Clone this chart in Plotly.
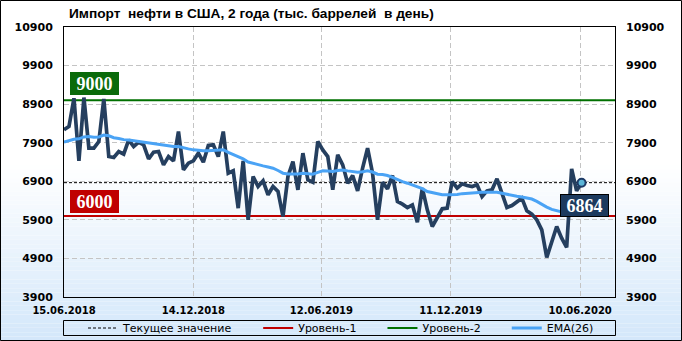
import plotly.graph_objects as go
import pandas as pd

# ---------------- data ----------------
title_text = "Импорт\u00a0 нефти в США, 2 года (тыс. баррелей\u00a0 в день)"
start_date = "2018-06-15"
end_date = "2020-07-29"

imports = [
    8234, 8320, 9054, 7430, 9071, 7758, 7758, 7931, 9037, 7542,
    7516, 7672, 7603, 7974, 7802, 7914, 7845, 7482, 7655, 7672,
    7326, 7542, 7430, 8190, 7197, 7370, 7430, 7629, 7395, 7827,
    7845, 7542, 8190, 7110, 7171, 6203, 7430, 5900, 7024, 6765,
    6912, 6549, 6765, 6635, 5987, 7024, 7413, 6678, 7629, 6938,
    6877, 7931, 7715, 7542, 6678, 7586, 7326, 6851, 7050, 6652,
    7240, 7758, 7110, 5900, 6877, 6704, 7050, 6376, 6307, 6220,
    6289, 5840, 6722, 6160, 5728, 5944, 6186, 6203, 6894, 6722,
    6834, 6790, 6765, 6808, 6506, 6652, 6678, 6963, 6592, 6220,
    6272, 6376, 6462, 6134, 6048, 5901, 5642, 4924, 5339, 5728,
    5425, 5184, 7223, 6652, 6864,
]

ema26 = [
    7914, 7950, 7990, 8000, 8050, 8060, 8040, 8050, 8100, 8080,
    8030, 8010, 7980, 7970, 7950, 7935, 7920, 7890, 7880, 7850,
    7830, 7815, 7800, 7800, 7760, 7740, 7715, 7700, 7690, 7690,
    7700, 7710, 7720, 7650, 7600, 7540, 7480, 7400, 7360, 7330,
    7300, 7270, 7240, 7180, 7110, 7090, 7085, 7090, 7110, 7095,
    7085, 7130, 7170, 7165, 7155, 7180, 7195, 7170, 7150, 7136,
    7150, 7171, 7140, 7084, 7075, 7050, 7000, 6940, 6890, 6850,
    6810, 6765, 6710, 6635, 6600, 6570, 6549, 6549, 6549, 6560,
    6580, 6592, 6605, 6618, 6618, 6618, 6618, 6618, 6590, 6560,
    6535, 6510, 6490, 6465, 6440, 6380, 6300, 6230, 6170, 6134,
    6117, 6070, 6120, 6160, 6210,
]

level1 = 6000
level2 = 9000
current_value = imports[-1]

tick_dates = ["2018-06-15", "2018-12-14", "2019-06-12", "2019-12-11", "2020-06-10"]
tick_labels = ["15.06.2018", "14.12.2018", "12.06.2019", "11.12.2019", "10.06.2020"]
y_ticks = [3900, 4900, 5900, 6900, 7900, 8900, 9900, 10900]
y_tick_labels = [str(v) for v in y_ticks]

legend_names = ["Текущее значение", "Уровень-1", "Уровень-2", "EMA(26)"]

dates = pd.date_range(start_date, periods=len(imports), freq="7D")

# ---------------- geometry helpers ----------------
W, H = 682, 341
ML, MR, MT, MB = 64, 67, 27, 44
PW, PH = W - ML - MR, H - MT - MB


def px_x(p):
    return (p - ML) / PW


def px_y(p):
    return (H - MB - p) / PH


NAVY = "#253f5f"
BLUE = "#4aa3f5"
RED = "#c00000"
GREEN = "#007000"
DARKGREEN_BOX = "#0a6a0a"
PAD = "\u00a0" * 6

fig = go.Figure()

span_x = [pd.Timestamp(start_date), pd.Timestamp(end_date)]

fig.add_trace(go.Scatter(x=span_x, y=[level1, level1], mode="lines",
                         line=dict(color=RED, width=2), name=legend_names[1] + PAD,
                         legendrank=2, hoverinfo="skip"))
fig.add_trace(go.Scatter(x=span_x, y=[level2, level2], mode="lines",
                         line=dict(color=GREEN, width=2), name=legend_names[2] + PAD,
                         legendrank=3, hoverinfo="skip"))
fig.add_trace(go.Scatter(x=span_x, y=[current_value, current_value], mode="lines",
                         line=dict(color="black", width=1, dash="3px,2px"),
                         name=legend_names[0] + PAD, legendrank=1, hoverinfo="skip"))
fig.add_trace(go.Scatter(x=dates, y=imports, mode="lines",
                         line=dict(color=NAVY, width=3.7), showlegend=False))
fig.add_trace(go.Scatter(x=dates, y=ema26, mode="lines", yaxis="y2",
                         line=dict(color=BLUE, width=3), name=legend_names[3],
                         legendrank=4))
fig.add_trace(go.Scatter(x=[dates[-1]], y=[current_value], mode="markers", yaxis="y2",
                         marker=dict(size=8, color="#5cb6d8",
                                     line=dict(color="#1d3a66", width=2)),
                         showlegend=False))

# ---------------- background gradient & frames ----------------
shapes = []
g_top, g_bot = 165, H
n_bands = 40
c0 = (255, 255, 255)
c1 = (211, 231, 250)
for k in range(n_bands):
    y0p = g_top + (g_bot - g_top) * k / n_bands
    y1p = g_top + (g_bot - g_top) * (k + 1) / n_bands
    t = (k + 0.5) / n_bands
    col = "rgb({},{},{})".format(*[round(a + (b - a) * t) for a, b in zip(c0, c1)])
    shapes.append(dict(type="rect", xref="paper", yref="paper", layer="below",
                       x0=px_x(0), x1=px_x(W), y0=px_y(y1p), y1=px_y(y0p),
                       fillcolor=col, line=dict(width=0)))
# outer border
shapes.append(dict(type="rect", xref="paper", yref="paper", layer="above",
                   x0=px_x(0.5), x1=px_x(W - 0.5), y0=px_y(H - 0.5), y1=px_y(0.5),
                   line=dict(color="black", width=1)))
# legend box
shapes.append(dict(type="rect", xref="paper", yref="paper", layer="above",
                   x0=px_x(63.5), x1=px_x(615.5), y0=px_y(335.5), y1=px_y(320.5),
                   line=dict(color="black", width=1)))

box_font = dict(family="Liberation Serif", size=18, color="white", weight="bold")
annotations = [
    dict(x=px_x(70), xref="paper", y=level2, yref="y", xanchor="left", yanchor="bottom",
         yshift=5, text=str(level2), showarrow=False, font=box_font,
         bgcolor=DARKGREEN_BOX, bordercolor=DARKGREEN_BOX, borderwidth=1, borderpad=1,
         width=45, height=19),
    dict(x=px_x(70), xref="paper", y=level1, yref="y", xanchor="left", yanchor="bottom",
         yshift=3, text=str(level1), showarrow=False, font=box_font,
         bgcolor=RED, bordercolor=RED, borderwidth=1, borderpad=1,
         width=45, height=19),
    dict(x=px_x(609), xref="paper", y=current_value, yref="y", xanchor="right", yanchor="top",
         yshift=-11, text=str(current_value), showarrow=False, font=box_font,
         bgcolor="#1c3a5e", bordercolor="black", borderwidth=1, borderpad=1,
         width=45, height=19),
    dict(x=px_x(67), xref="paper", y=px_y(13), yref="paper",
         xanchor="left", yanchor="middle", text=title_text, showarrow=False,
         font=dict(family="Liberation Sans", size=13.7, color="black", weight="bold")),
]

tickfont_y = dict(family="DejaVu Sans", size=11, color="black", weight="bold")
grid = dict(showgrid=True, gridcolor="#c4c4c4", griddash="5px,3px", gridwidth=1)

fig.update_layout(
    width=W, height=H,
    margin=dict(l=ML, r=MR, t=MT, b=MB, pad=0, autoexpand=False),
    paper_bgcolor="white",
    plot_bgcolor="rgba(0,0,0,0)",
    showlegend=True,
    shapes=shapes,
    annotations=annotations,
    xaxis=dict(type="date", range=span_x, tickvals=[pd.Timestamp(d) for d in tick_dates],
               ticktext=tick_labels, ticks="", zeroline=False, automargin=False,
               showline=True, mirror=True, linecolor="black", linewidth=1,
               tickfont=dict(family="DejaVu Sans", size=10, color="black", weight="bold"),
               ticklabelstandoff=4, **grid),
    yaxis=dict(range=[y_ticks[0], y_ticks[-1]], tickvals=y_ticks, ticktext=y_tick_labels,
               ticks="", automargin=False,
               showline=True, mirror=True, linecolor="black", linewidth=1,
               zeroline=False, tickfont=tickfont_y, ticklabelstandoff=8, **grid),
    yaxis2=dict(range=[y_ticks[0], y_ticks[-1]], tickvals=y_ticks, ticktext=y_tick_labels,
                ticks="", automargin=False,
                overlaying="y", side="right", showgrid=False, zeroline=False,
                showline=False, tickfont=tickfont_y, ticklabelstandoff=10),
    legend=dict(orientation="h", xref="container", yref="container",
                x=83 / W, y=1 - 328 / H, xanchor="left", yanchor="middle",
                bgcolor="rgba(0,0,0,0)", borderwidth=0,
                font=dict(family="DejaVu Sans", size=11, color="black")),
    hovermode=False,
)

fig.write_html("out.html")
